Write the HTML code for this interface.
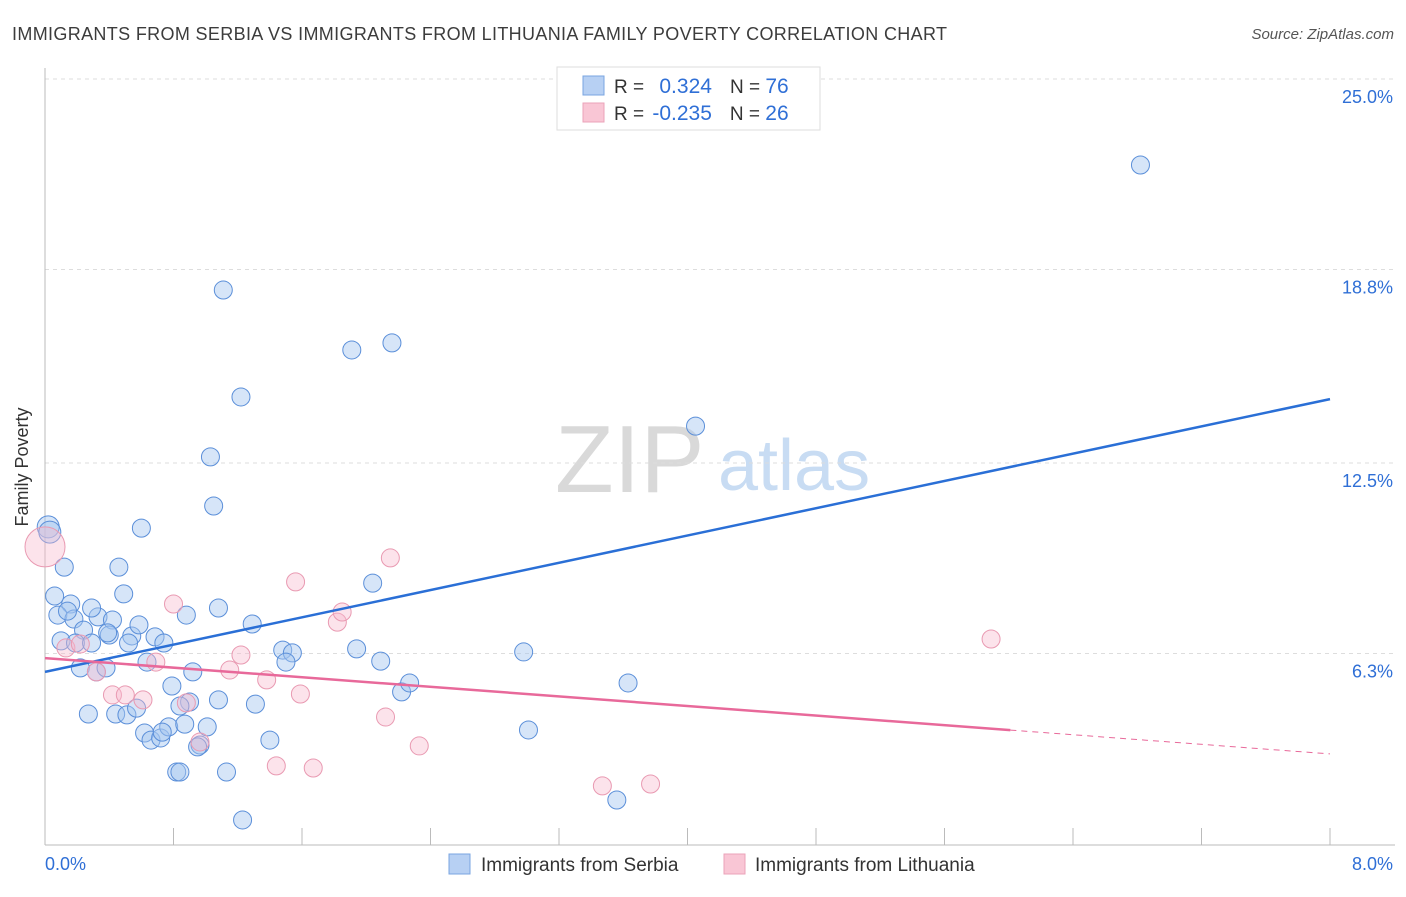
<!DOCTYPE html>
<html><head><meta charset="utf-8"><style>
body{margin:0;background:#fff;font-family:"Liberation Sans",sans-serif}
svg text{font-family:"Liberation Sans",sans-serif}
</style></head><body>
<svg width="1406" height="892" viewBox="0 0 1406 892" xmlns="http://www.w3.org/2000/svg">
<text x="12" y="40" font-size="18" fill="#3c3c3c" textLength="935" lengthAdjust="spacing">IMMIGRANTS FROM SERBIA VS IMMIGRANTS FROM LITHUANIA FAMILY POVERTY CORRELATION CHART</text>
<text x="1394" y="39" font-size="15" fill="#555" font-style="italic" text-anchor="end">Source: ZipAtlas.com</text>
<g>
<text x="555" y="492" font-size="96" font-family="Liberation Serif" fill="#d9d9d9">ZIP</text>
<text x="718" y="490" font-size="72" fill="#c8dcf3">atlas</text>
</g>
<g id="grid"></g>
<g id="axes"></g>
<g id="pts"></g>
<g id="trend"></g>
<text x="16" y="455" font-size="18" fill="#333" transform="rotate(-90 28 455)" text-anchor="middle">Family Poverty</text>
<g>
<rect x="557" y="67" width="263" height="63" fill="#fff" stroke="#ddd"/>
<rect x="583" y="76" width="21" height="19" fill="#b7d0f3" stroke="#7aa5e0"/>
<rect x="583" y="103" width="21" height="19" fill="#f9c6d5" stroke="#eba3b9"/>
<text x="614" y="93" font-size="19" fill="#333">R = <tspan fill="#2f6fd6" dx="10" font-size="21">0.324</tspan><tspan dx="18" fill="#333">N = </tspan><tspan fill="#2f6fd6" font-size="21">76</tspan></text>
<text x="614" y="120" font-size="19" fill="#333">R = <tspan fill="#2f6fd6" dx="3" font-size="21">-0.235</tspan><tspan dx="18" fill="#333">N = </tspan><tspan fill="#2f6fd6" font-size="21">26</tspan></text>
</g>
<g>
<rect x="449" y="854" width="21" height="20" fill="#b7d0f3" stroke="#7aa5e0"/>
<text x="481" y="871" font-size="19" fill="#333">Immigrants from Serbia</text>
<rect x="724" y="854" width="21" height="20" fill="#f9c6d5" stroke="#eba3b9"/>
<text x="755" y="871" font-size="19" fill="#333">Immigrants from Lithuania</text>
</g>
</svg>
<script>
const yTicks=[25.0,18.8,12.5,6.3];
const yTickLabels=["25.0%","18.8%","12.5%","6.3%"];
const xTickCount=10;
const xLabels=["0.0%","8.0%"];
const serbiaX=[.02,.03,.12,.06,.60,.46,.49,.16,.33,.42,.08,.18,.10,.24,.19,.29,.40,.54,.52,.585,.685,.74,.635,.22,.32,.38,.88,1.08,1.29,.92,.79,.90,1.08,.84,1.31,.27,.44,.51,.57,.62,.66,.72,.77,.87,1.01,.73,.965,.95,1.40,.82,.84,1.13,1.23,1.11,1.22,1.03,1.05,1.91,2.16,2.04,1.48,1.54,1.50,1.94,2.09,2.22,2.27,2.98,3.01,3.63,3.56,4.05,6.82,.39,.29,.14];
const serbiaY=[10.42,10.25,9.11,8.17,10.38,9.11,8.24,7.91,7.49,7.39,7.55,7.42,6.71,7.06,6.64,6.64,6.90,6.87,6.64,7.23,6.84,6.64,6.02,5.83,5.70,5.83,7.55,7.78,7.26,5.70,5.24,4.72,4.79,4.59,4.65,4.33,4.33,4.30,4.52,3.71,3.48,3.55,3.91,4.00,3.91,3.74,3.32,3.26,3.48,2.44,2.44,2.44,0.88,18.13,14.65,12.70,11.10,16.18,16.41,8.59,6.41,6.32,6.02,6.45,6.05,5.05,5.34,6.35,3.81,5.34,1.53,13.70,22.20,6.97,7.78,7.68];
const lithX=[0,.13,.22,.32,.42,.50,.61,.69,.80,.88,.965,1.15,1.22,1.38,1.56,1.59,1.44,1.67,1.82,1.85,2.12,2.15,2.33,3.47,3.77,5.89];
const lithY=[9.77,6.48,6.61,5.70,4.95,4.95,4.79,6.02,7.91,4.69,3.42,5.76,6.25,5.44,8.63,4.98,2.64,2.57,7.32,7.65,4.23,9.41,3.29,1.99,2.05,6.77];
const serbiaTrend=[5.70,14.58];
const lithTrend=[6.15,3.03];
const lithSolidEnd=6.01;
const NS="http://www.w3.org/2000/svg";
const X0=45,X1=1330,Y0=847,YPX=192/6.25;
const sx=v=>X0+(X1-X0)*v/8, sy=v=>Y0-v*YPX;
function mk(tag,attrs,parent){const e=document.createElementNS(NS,tag);for(const k in attrs)e.setAttribute(k,attrs[k]);parent.appendChild(e);return e;}
const grid=document.getElementById('grid'),axes=document.getElementById('axes'),pts=document.getElementById('pts'),trend=document.getElementById('trend');
yTicks.forEach((t,i)=>{const y=sy(t);
 const l=mk('line',{x1:X0,x2:1395,y1:y,y2:y,stroke:'#ddd','stroke-dasharray':'4 4'},grid);
 
 
 const tx=mk('text',{x:1393,y:y+24,'font-size':18,fill:'#2f6fd6','text-anchor':'end'},axes);tx.textContent=yTickLabels[i];
 
 
});
let a=mk('line',{x1:X0,x2:X0,y1:68,y2:845,stroke:'#bbb'},axes);


a=mk('line',{x1:X0,x2:1395,y1:845,y2:845,stroke:'#bbb'},axes);


for(let i=1;i<=xTickCount;i++){const x=sx(8*i/xTickCount);
 const t=mk('line',{x1:x,x2:x,y1:828,y2:845,stroke:'#bbb'},axes);
 
 }
let t0=mk('text',{x:45,y:870,'font-size':18,fill:'#2f6fd6'},axes);t0.textContent=xLabels[0];


t0=mk('text',{x:1393,y:870,'font-size':18,fill:'#2f6fd6','text-anchor':'end'},axes);t0.textContent=xLabels[1];


serbiaX.forEach((v,i)=>{const r=i<2?11:9;
 const c=mk('circle',{cx:sx(v),cy:sy(serbiaY[i]),r:r,fill:'rgba(165,198,240,0.45)',stroke:'#5b8fd9','stroke-width':1},pts);
 
 });
lithX.forEach((v,i)=>{const r=i==0?20:9;
 const c=mk('circle',{cx:sx(v),cy:sy(lithY[i]),r:r,fill:'rgba(248,185,205,0.4)',stroke:'#e99ab2','stroke-width':1},pts);
 
 });
let l=mk('line',{x1:sx(0),y1:sy(serbiaTrend[0]),x2:sx(8),y2:sy(serbiaTrend[1]),stroke:'#2a6fd6','stroke-width':2.5},trend);


const ly=v=>lithTrend[0]+(lithTrend[1]-lithTrend[0])*v/8;
l=mk('line',{x1:sx(0),y1:sy(lithTrend[0]),x2:sx(lithSolidEnd),y2:sy(ly(lithSolidEnd)),stroke:'#e8699a','stroke-width':2.5},trend);


l=mk('line',{x1:sx(lithSolidEnd),y1:sy(ly(lithSolidEnd)),x2:sx(8),y2:sy(lithTrend[1]),stroke:'#e8699a','stroke-width':1,'stroke-dasharray':'6 5'},trend);


</script>
</body></html>
